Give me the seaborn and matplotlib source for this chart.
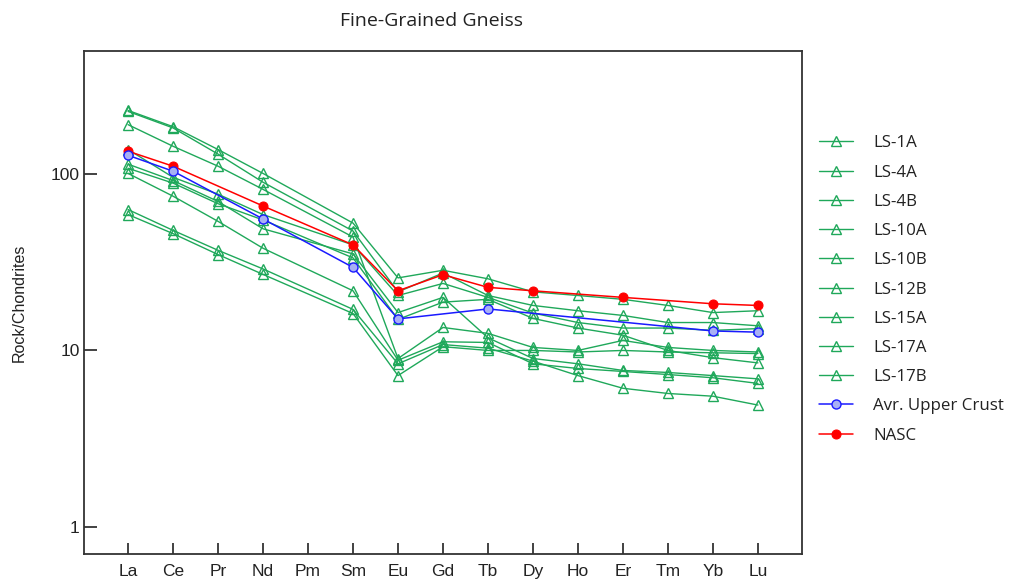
import numpy as np
import pandas as pd
import matplotlib
matplotlib.use("Agg")
import matplotlib.pyplot as plt
import seaborn as sns

nan = np.nan
elements = ['La', 'Ce', 'Pr', 'Nd', 'Pm', 'Sm', 'Eu', 'Gd', 'Tb', 'Dy', 'Ho', 'Er', 'Tm', 'Yb', 'Lu']

ls_1a  = [230, 186, 138, 101, nan, 52.8, 25.8, 28.5, 25.5, 21.5, 20.5, 19.5, 18.0, 16.4, 16.8]
ls_4a  = [227, 183, 130, 90, nan, 47.6, 21.5, 27.5, 20.5, 18.0, 16.8, 15.8, 14.4, 14.4, 13.8]
ls_4b  = [191, 144, 111, 82, nan, 44.0, 9.0, 13.5, 12.5, 10.4, 10.0, 11.4, 10.4, 10.0, 9.8]
ls_10a = [138, 96, 77, 59, nan, 39.7, 20.5, 24.0, 20.0, 16.3, 14.4, 13.4, 13.4, 13.0, 13.3]
ls_10b = [114, 92, 70, 49, nan, 35.3, 16.4, 20.0, 11.8, 9.0, 8.4, 7.7, 7.5, 7.2, 6.9]
ls_12b = [108, 89, 68, 55, nan, 33.5, 15.0, 18.8, 19.5, 15.2, 13.4, 12.2, 10.0, 9.1, 8.5]
ls_15a = [101, 75, 54, 38, nan, 21.8, 8.8, 11.2, 11.1, 8.4, 7.9, 7.6, 7.3, 7.0, 6.5]
ls_17a = [63, 48, 37, 29, nan, 17.1, 8.4, 10.8, 10.3, 8.7, 7.2, 6.1, 5.7, 5.5, 4.9]
ls_17b = [59, 46, 35, 27, nan, 16.2, 7.2, 10.5, 10.0, 10.0, 9.8, 10.0, 9.8, 9.7, 9.6]

upper_crust = [128, 104, nan, 55.7, nan, 29.6, 15.1, nan, 17.2, nan, nan, nan, nan, 12.9, 12.7]
nasc = [135, 111, nan, 66, nan, 39.7, 21.8, 26.9, 22.8, 21.8, nan, 20.0, nan, 18.4, 18.0]

sample_names = ['LS-1A', 'LS-4A', 'LS-4B', 'LS-10A', 'LS-10B', 'LS-12B', 'LS-15A', 'LS-17A', 'LS-17B']
sample_values = [ls_1a, ls_4a, ls_4b, ls_10a, ls_10b, ls_12b, ls_15a, ls_17a, ls_17b]

title = 'Fine-Grained Gneiss'
ylabel = 'Rock/Chondrites'

sns.set_theme(style='white')
plt.rcParams['font.family'] = ['Liberation Sans', 'DejaVu Sans']

fig = plt.figure(figsize=(10.15, 5.82), dpi=100)
ax = fig.add_axes([84 / 1015, 1 - 554 / 582, (802 - 84) / 1015, (554 - 51) / 582])

green = '#1fa85a'
x_idx = np.arange(len(elements))


def series_frame(vals):
    df = pd.DataFrame({'x': x_idx, 'y': vals})
    return df.dropna()


for name, vals in zip(sample_names, sample_values):
    sns.lineplot(data=series_frame(vals), x='x', y='y', ax=ax, color=green, lw=1.0,
                 marker='^', markersize=7.8, markerfacecolor='none',
                 markeredgecolor=green, markeredgewidth=1.0, label=name, zorder=2)

sns.lineplot(data=series_frame(nasc), x='x', y='y', ax=ax, color='#ff0000', lw=1.1,
             marker='o', markersize=6.5, markerfacecolor='#ff0000',
             markeredgecolor='#ff0000', label='NASC', zorder=3)
sns.lineplot(data=series_frame(upper_crust), x='x', y='y', ax=ax, color='#1a1aff', lw=1.1,
             marker='o', markersize=6.5, markerfacecolor='#a8b0f5',
             markeredgecolor='#1a1aff', markeredgewidth=1.0, label='Avr. Upper Crust', zorder=4)

ax.set_yscale('log')
ax.set_ylim(0.7, 500)
ax.set_xlim(-0.98, 14.98)
ax.set_xticks(x_idx)
ax.set_xticklabels(elements)
ax.set_yticks([1, 10, 100])
ax.set_yticklabels(['1', '10', '100'])
ax.yaxis.set_minor_locator(matplotlib.ticker.NullLocator())
ax.tick_params(axis='y', which='major', direction='in', length=9, width=1.2,
               color='#222222', labelsize=12.5, pad=3, left=True, labelcolor='#222222')
ax.tick_params(axis='x', which='major', direction='in', length=8, width=1.2,
               color='#222222', labelsize=12.5, pad=7, bottom=True, labelcolor='#222222')
ax.set_xlabel('')
ax.set_ylabel(ylabel, fontsize=11.5, color='#222222', labelpad=17)
for sp in ax.spines.values():
    sp.set_visible(True)
    sp.set_color('#333333')
    sp.set_linewidth(1.3)

fig.text(431 / 1015, 1 - 21 / 582, title, ha='center', va='center', fontsize=14,
         family=['Open Sans', 'DejaVu Sans'], color='#222222')

handles, labels = ax.get_legend_handles_labels()
order = sample_names + ['Avr. Upper Crust', 'NASC']
hmap = dict(zip(labels, handles))
ax.legend([hmap[l] for l in order], order, loc='center left',
          bbox_to_anchor=(819 / 1015, 1 - 289.5 / 582), bbox_transform=fig.transFigure,
          frameon=False, prop={'family': ['Open Sans', 'DejaVu Sans'], 'size': 12.2},
          handlelength=2.0, handletextpad=1.2, labelspacing=0.78, borderpad=0,
          borderaxespad=0, labelcolor='#222222')

fig.savefig('out.png', dpi=100)
